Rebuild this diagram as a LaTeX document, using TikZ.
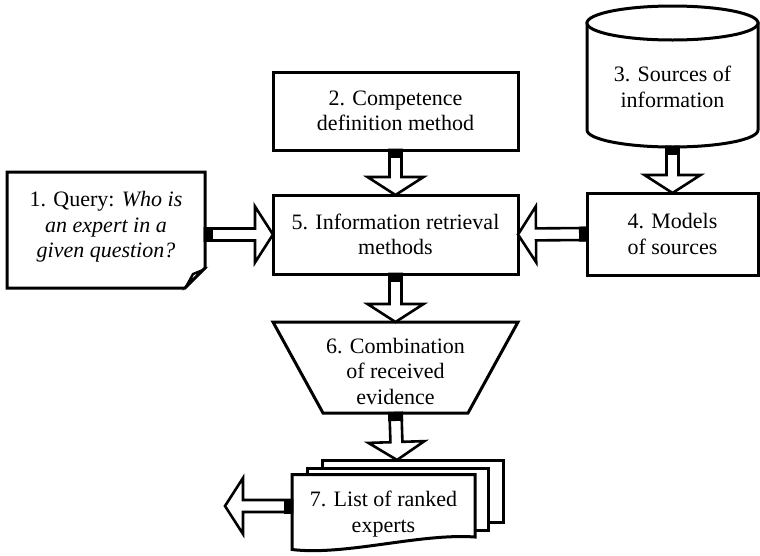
\documentclass[tikz,border=0pt]{standalone}
\usepackage{fontspec}
\setmainfont{Liberation Serif}
\usetikzlibrary{calc}
\tikzset{
  boxline/.style={line width=3pt, line join=miter},
  rectbox/.style={draw, boxline, fill=white, outer sep=0pt, inner sep=0pt, align=center, font=\fontsize{22}{25.5}\selectfont},
  holder/.style={outer sep=0pt, inner sep=0pt, align=center, font=\fontsize{22}{25.5}\selectfont},
  txt/.style={align=center, inner sep=0pt, font=\fontsize{22}{25.5}\selectfont},
  fatbody/.style={line width=2.6pt, fill=white, line join=miter, miter limit=6},
}
\newcommand{\fatarrow}[2]{%
  \coordinate (fa-s) at #1;
  \coordinate (fa-e) at #2;
  \coordinate (fa-h) at ($(fa-e)!18pt!(fa-s)$);
  \coordinate (fa-b) at ($(fa-s)!8pt!(fa-e)$);
  \draw[fatbody] ($(fa-s)!6pt!90:(fa-e)$) -- ($(fa-h)!6pt!90:(fa-e)$) -- ($(fa-h)!28pt!90:(fa-e)$) -- (fa-e)
     -- ($(fa-h)!28pt!-90:(fa-e)$) -- ($(fa-h)!6pt!-90:(fa-e)$) -- ($(fa-s)!6pt!-90:(fa-e)$) -- cycle;
  \fill ($(fa-s)!7.5pt!90:(fa-e)$) -- ($(fa-b)!7.5pt!90:(fa-e)$) -- ($(fa-b)!7.5pt!-90:(fa-e)$) -- ($(fa-s)!7.5pt!-90:(fa-e)$) -- cycle;
}
\begin{document}
\begin{tikzpicture}[x=1pt,y=-1pt]
\useasboundingbox (0,0) rectangle (760,555);

% 1. Query (document with folded corner)
\node[holder, minimum width=198pt, minimum height=116pt] (b1) at (106,230) {};
\draw[boxline, fill=white] (b1.north west) -- (b1.north east) -- ([yshift=20pt]b1.south east)
   -- ([xshift=-20pt]b1.south east) -- (b1.south west) -- cycle;
\draw[line width=2.4pt, line join=miter, fill=white] ([xshift=-18pt,yshift=3pt]b1.south east) -- ([xshift=-12pt,yshift=14pt]b1.south east) -- ([xshift=-2pt,yshift=18pt]b1.south east) -- cycle;
\node[txt] (t1) at (106,227) {1. Query: \textit{Who is}\\\textit{an expert in a}\\\textit{given question?}};

% 2. Competence definition method
\node[rectbox, minimum width=245pt, minimum height=78pt] (b2) at (395.5,111) {2. Competence\\definition method};

% 3. Sources of information (cylinder)
\node[holder, minimum width=171pt, minimum height=141pt] (b3) at (672.5,76.5) {};
\draw[boxline, fill=white] (587,23) -- (587,130) arc[start angle=180, end angle=360, x radius=85.5pt, y radius=17pt] -- (758,23) -- cycle;
\draw[boxline, fill=white] (672.5,23) ellipse[x radius=85.5pt, y radius=17pt];
\node[txt] (t3) at (672.5,87) {3. Sources of\\information};

% 4. Models of sources
\node[rectbox, minimum width=171pt, minimum height=82pt] (b4) at (672.5,234) {4. Models\\of sources};

% 5. Information retrieval methods
\node[rectbox, minimum width=245pt, minimum height=79pt] (b5) at (395.5,234.5) {5. Information retrieval\\methods};

% 6. Combination (trapezoid)
\node[holder, minimum width=245pt, minimum height=91pt] (b6) at (395.5,367.5) {};
\draw[boxline, fill=white] (b6.north west) -- (b6.north east) -- ([xshift=-50pt]b6.south east) -- ([xshift=50pt]b6.south west) -- cycle;
\node[txt] (t6) at (395.5,371) {6. Combination\\of received\\evidence};

% 7. List of ranked experts (stack of documents)
\draw[boxline, fill=white] (322,460) rectangle (503,522);
\draw[boxline, fill=white] (307,468) rectangle (488,530);
\node[holder, minimum width=183pt, minimum height=75pt] (b7) at (383.5,512) {};
\draw[boxline, fill=white] (b7.north west) -- (b7.north east) -- (475,537)
   .. controls (420,533) and (345,556) .. (292,549.5) -- cycle;
\node[txt] (t7) at (383.5,514) {7. List of ranked\\experts};
\coordinate (stacktop) at (397,460);
\coordinate (out) at (225,506);

% connectors
\fatarrow{(b1.east |- b5.west)}{(b5.west)}
\fatarrow{(b4.west)}{(b5.east)}
\fatarrow{(b2.south)}{(b5.north)}
\fatarrow{(b3.south)}{(b4.north)}
\fatarrow{(b5.south)}{(b6.north)}
\fatarrow{(b6.south)}{(stacktop)}
\fatarrow{(b7.west |- out)}{(out)}
\end{tikzpicture}
\end{document}
